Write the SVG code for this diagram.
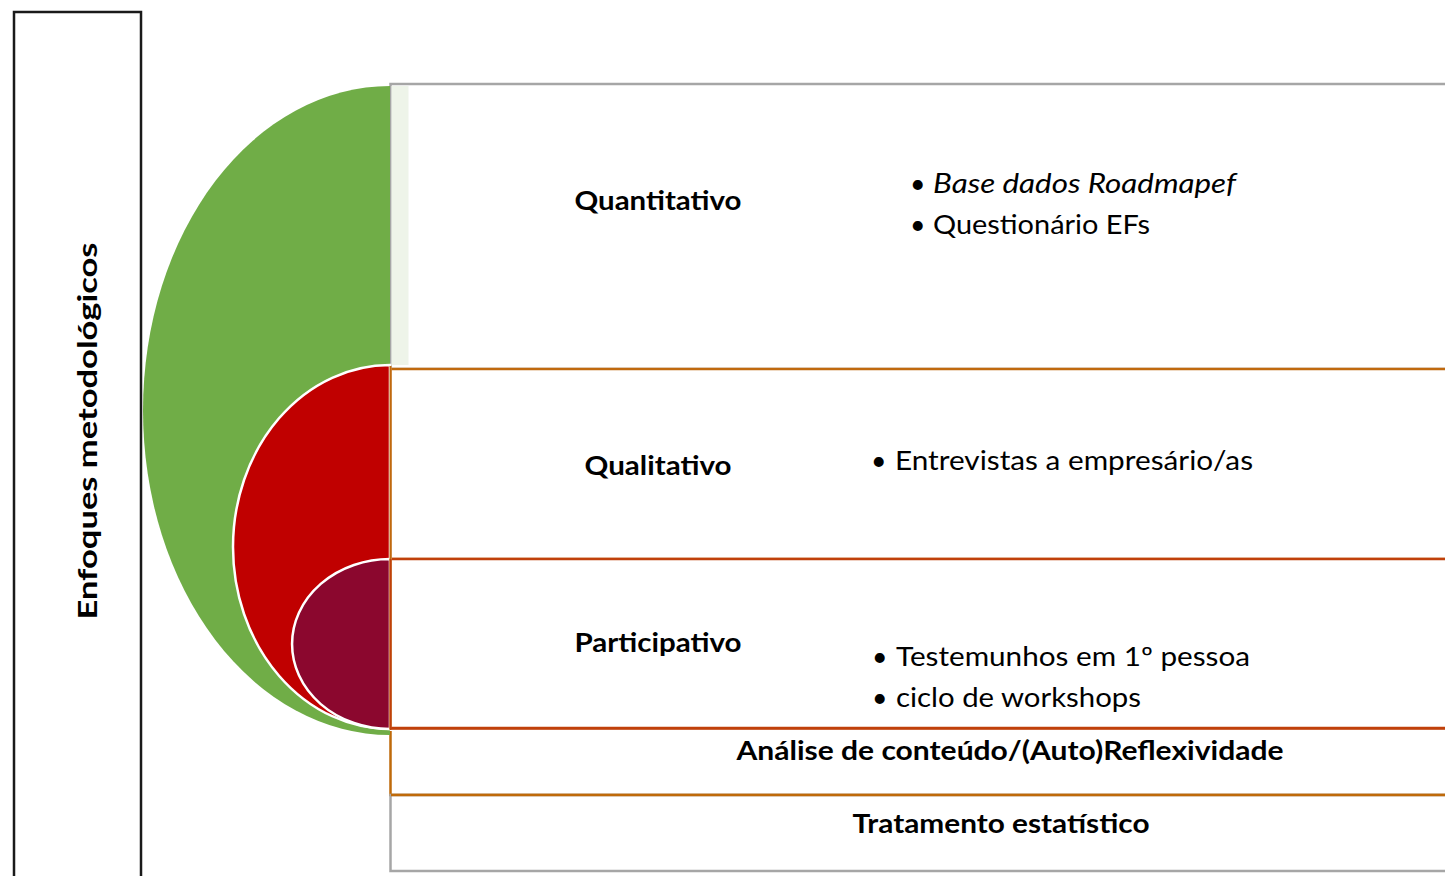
<svg xmlns="http://www.w3.org/2000/svg" width="1445" height="876" viewBox="0 0 1445 876">
<style>
.b{font-family:Lato,"Open Sans","Liberation Sans",sans-serif;font-weight:bold;font-size:26.7px;fill:#000}
.r{font-family:Lato,"Open Sans","Liberation Sans",sans-serif;font-size:26.7px;fill:#000}
.i{font-style:italic}
.box{fill:#fff;stroke-width:2.5}
</style>
<rect width="1445" height="876" fill="#fff"/>
<g id="side">
<rect x="14" y="12" width="127" height="900" fill="#fff" stroke="#1a1a1a" stroke-width="2.5"/>
<text class="b" transform="translate(97,431) rotate(-90)" text-anchor="middle" font-size="28" textLength="377" lengthAdjust="spacingAndGlyphs">Enfoques metodológicos</text>
</g>
<g id="boxes">
<rect id="box-quant" class="box" x="390.5" y="84" width="1100" height="285" stroke="#a6a6a6"/>
<rect x="391.5" y="86" width="17" height="279" fill="#eef4e9"/>
<rect id="box-qual" class="box" x="390.5" y="369" width="1100" height="190" stroke="#c0690e"/>
<rect id="box-part" class="box" x="390.5" y="559" width="1100" height="169" stroke="#c0400b"/>
<path id="box-anal" d="M390.5 731 V795 H1445" fill="none" stroke="#bf6a0a" stroke-width="2.5"/>
<rect id="box-trat" class="box" x="390.5" y="795" width="1100" height="76" stroke="#a6a6a6"/>
<line x1="391" y1="795" x2="1445" y2="795" stroke="#bf6a0a" stroke-width="2.5"/>
</g>
<g id="arcs">
<path id="arc-green" d="M390 86 A247 324.5 0 0 0 390 735 Z" fill="#70ad47"/>
<path id="arc-red" d="M390 365 A157 182 0 0 0 390 729 Z" fill="#c00000" stroke="#fff" stroke-width="2.5"/>
<path id="arc-dark" d="M390 559 A98 85 0 0 0 390 729 Z" fill="#8b072e" stroke="#fff" stroke-width="2.5"/>
<line x1="390.5" y1="366" x2="390.5" y2="730" stroke="#c0690e" stroke-width="2"/>
<line x1="390.5" y1="559" x2="390.5" y2="729" stroke="#c0400b" stroke-width="2"/>
<line x1="390" y1="728.5" x2="1445" y2="728.5" stroke="#c0400b" stroke-width="2.5"/>
</g>
<g id="labels">
<text class="b" x="658" y="210" text-anchor="middle" textLength="167" lengthAdjust="spacingAndGlyphs">Quantitativo</text>
<text class="b" x="658" y="475" text-anchor="middle" textLength="147" lengthAdjust="spacingAndGlyphs">Qualitativo</text>
<text class="b" x="658" y="652" text-anchor="middle" textLength="167" lengthAdjust="spacingAndGlyphs">Participativo</text>
<text class="b" x="1010" y="760" text-anchor="middle" textLength="547" lengthAdjust="spacingAndGlyphs">Análise de conteúdo/(Auto)Reflexividade</text>
<text class="b" x="1001" y="833" text-anchor="middle" textLength="297" lengthAdjust="spacingAndGlyphs">Tratamento estatístico</text>
</g>
<g id="bullets">
<text class="r" x="910" y="193">•</text>
<text class="r i" x="933" y="193" textLength="303" lengthAdjust="spacingAndGlyphs">Base dados Roadmapef</text>
<text class="r" x="910" y="234">•</text>
<text class="r" x="933" y="234" textLength="217" lengthAdjust="spacingAndGlyphs">Questionário EFs</text>
<text class="r" x="871" y="470">•</text>
<text class="r" x="895" y="470" textLength="358" lengthAdjust="spacingAndGlyphs">Entrevistas a empresário/as</text>
<text class="r" x="872" y="666">•</text>
<text class="r" x="896" y="666" textLength="354" lengthAdjust="spacingAndGlyphs">Testemunhos em 1º pessoa</text>
<text class="r" x="872" y="707">•</text>
<text class="r" x="896" y="707" textLength="245" lengthAdjust="spacingAndGlyphs">ciclo de workshops</text>
</g>
</svg>
